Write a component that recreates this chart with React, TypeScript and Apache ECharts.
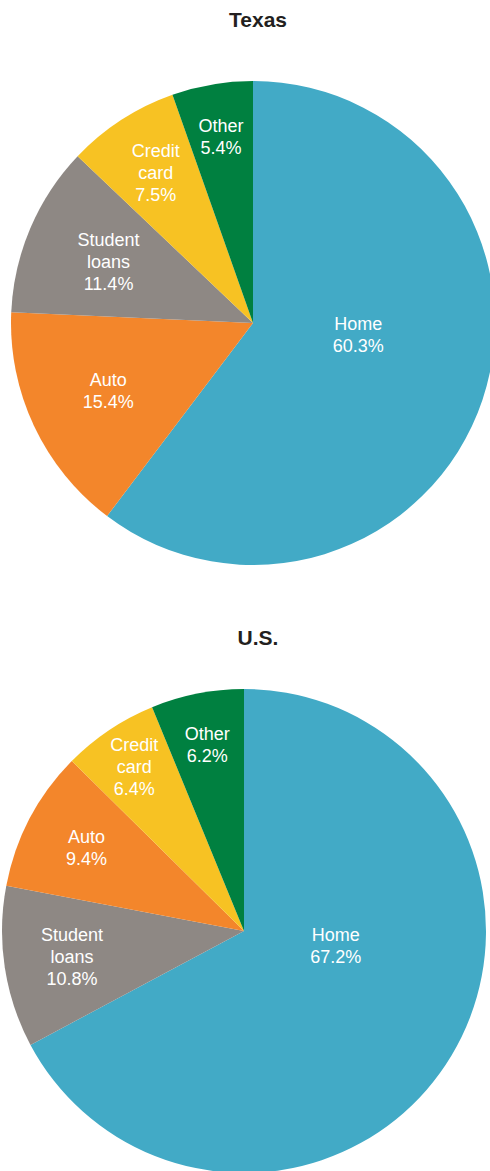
import React, { useEffect, useRef } from "react";
import * as echarts from "echarts";

const categoriesTexas = ["Home", "Auto", "Student\nloans", "Credit\ncard", "Other"];
const valuesTexas = [60.3, 15.4, 11.4, 7.5, 5.4];
const categoriesUS = ["Home", "Student\nloans", "Auto", "Credit\ncard", "Other"];
const valuesUS = [67.2, 10.8, 9.4, 6.4, 6.2];
const titles = ["Texas", "U.S."];

const COLORS: Record<string, string> = {
  Home: "#42AAC6",
  Auto: "#F3862B",
  "Student\nloans": "#8E8884",
  "Credit\ncard": "#F7C223",
  Other: "#008040",
};

// label placement (distance from center in px, optional angle override in degrees clockwise from top)
const labelPlacement = [
  { Home: { r: 106, a: 96.5 }, Auto: { r: 160 }, "Student\nloans": { r: 157 }, "Credit\ncard": { r: 179 }, Other: { r: 189 } },
  { Home: { r: 93, a: 99 }, "Student\nloans": { r: 174 }, Auto: { r: 178 }, "Credit\ncard": { r: 197 }, Other: { r: 190 } },
] as Array<Record<string, { r: number; a?: number }>>;

const centers = [
  [253, 323],
  [244, 931],
];
const RADIUS = 242;

export default function App() {
  const ref = useRef<HTMLDivElement>(null);
  useEffect(() => {
    document.body.style.margin = "0";
    const chart = echarts.init(ref.current!, null, { renderer: "svg" });
    const sets = [
      { cats: categoriesTexas, vals: valuesTexas },
      { cats: categoriesUS, vals: valuesUS },
    ];
    const series = sets.map((s, si) => {
      const total = s.vals.reduce((a, b) => a + b, 0);
      let cum = 0;
      const pos = s.vals.map((v, i) => {
        const mid = ((cum + v / 2) / total) * 360;
        cum += v;
        const pl = labelPlacement[si][s.cats[i]];
        const ang = ((pl.a ?? mid) * Math.PI) / 180;
        return [
          centers[si][0] + pl.r * Math.sin(ang),
          centers[si][1] - pl.r * Math.cos(ang),
        ];
      });
      return {
        type: "pie",
        center: centers[si],
        radius: RADIUS,
        startAngle: 90,
        clockwise: true,
        avoidLabelOverlap: false,
        silent: true,
        data: s.cats.map((c, i) => ({
          name: c,
          value: s.vals[i],
          itemStyle: { color: COLORS[c] },
        })),
        itemStyle: { borderWidth: 0 },
        label: {
          show: true,
          position: "inside",
          formatter: (p: any) => `${p.name}\n${p.value.toFixed(1)}%`,
          color: "#ffffff",
          fontFamily: "Liberation Sans, Arial, sans-serif",
          fontSize: 18,
          lineHeight: 22,
          align: "center",
        },
        labelLine: { show: false },
        labelLayout: (params: any) => ({
          x: pos[params.dataIndex][0],
          y: pos[params.dataIndex][1],
          align: "center",
          verticalAlign: "middle",
        }),
      };
    });
    chart.setOption({
      animation: false,
      backgroundColor: "#ffffff",
      title: titles.map((t, i) => ({
        text: t,
        left: 253,
        top: i === 0 ? 4 : 622,
        textAlign: "center",
        textStyle: {
          fontFamily: "Liberation Sans, Arial, sans-serif",
          fontWeight: "bold",
          fontSize: 21,
          color: "#231f20",
        },
      })),
      series,
    });
    return () => chart.dispose();
  }, []);
  return <div ref={ref} style={{ width: 490, height: 1171 }} />;
}
